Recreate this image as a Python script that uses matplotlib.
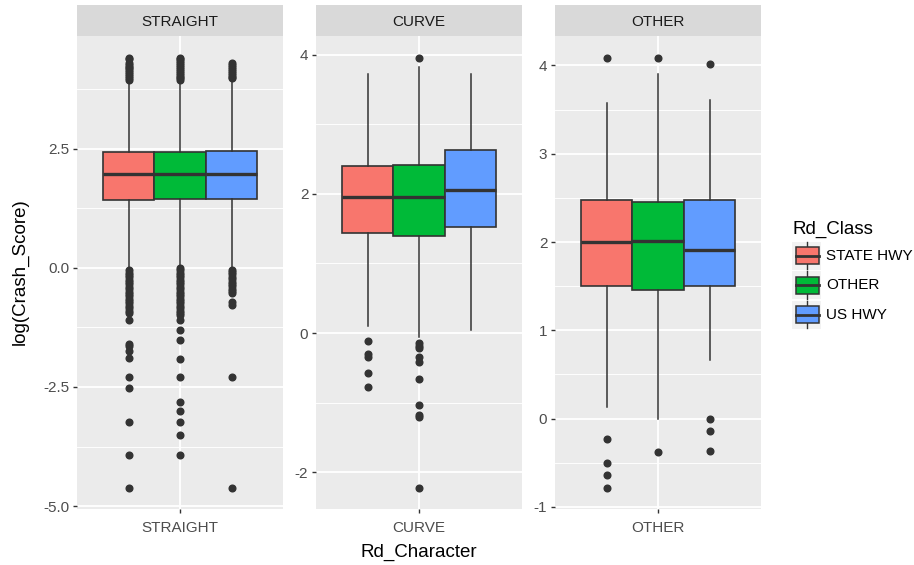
import matplotlib
matplotlib.use("Agg")
import matplotlib.pyplot as plt
from matplotlib.patches import Rectangle
from matplotlib.lines import Line2D

plt.rcParams['font.family'] = ['Liberation Sans', 'DejaVu Sans']

W, H = 914, 565

facets = ["STRAIGHT", "CURVE", "OTHER"]
classes = ["STATE HWY", "OTHER", "US HWY"]
colors = ["#F8766D", "#00BA38", "#619CFF"]

# ---- STRAIGHT ----
straight_q1 = [1.42, 1.45, 1.45]
straight_med = [1.97, 1.97, 1.97]
straight_q3 = [2.43, 2.43, 2.45]
straight_lo = [-0.02, 0.04, 0.02]
straight_hi = [3.90, 3.90, 3.93]
straight_fliers_state = [4.41, 4.37, 4.30, 4.26, 4.22, 4.18, 4.14, 4.10, 4.06, 4.02, 3.98, 3.94,
                         -0.05, -0.10, -0.15, -0.20, -0.25, -0.30, -0.35, -0.40, -0.45, -0.50,
                         -0.55, -0.60, -0.65, -0.70, -0.75, -0.80, -0.85, -0.90, -0.95,
                         -1.09, -1.59, -1.65, -1.75, -1.90, -2.29, -2.52, -3.23, -3.93, -4.61]
straight_fliers_other = [4.41, 4.37, 4.33, 4.29, 4.25, 4.21, 4.17, 4.13, 4.09, 4.05, 4.01, 3.97, 3.93,
                         0.00, -0.05, -0.10, -0.15, -0.20, -0.25, -0.30, -0.35, -0.40, -0.45,
                         -0.50, -0.55, -0.60, -0.65, -0.70, -0.75, -0.80, -0.85, -0.90, -0.95,
                         -1.00, -1.09, -1.31, -1.51, -1.91, -2.29, -2.81, -3.00, -3.23, -3.51, -3.93]
straight_fliers_us = [4.29, 4.25, 4.21, 4.17, 4.13, 4.09, 4.05, 4.01, 3.97,
                      -0.04, -0.09, -0.14, -0.19, -0.24, -0.29, -0.34, -0.39, -0.44, -0.49, -0.54,
                      -0.71, -0.78, -2.29, -4.61]

# ---- CURVE ----
curve_q1 = [1.44, 1.40, 1.52]
curve_med = [1.95, 1.95, 2.05]
curve_q3 = [2.40, 2.42, 2.63]
curve_lo = [0.10, -0.05, 0.05]
curve_hi = [3.72, 3.83, 3.72]
curve_fliers_state = [-0.12, -0.30, -0.34, -0.57, -0.77]
curve_fliers_other = [3.96, -0.14, -0.18, -0.22, -0.35, -0.42, -0.66, -1.03, -1.18, -1.21, -2.22]
curve_fliers_us = []

# ---- OTHER ----
other_q1 = [1.50, 1.46, 1.50]
other_med = [2.00, 2.01, 1.91]
other_q3 = [2.48, 2.45, 2.48]
other_lo = [0.13, 0.00, 0.66]
other_hi = [3.58, 3.90, 3.61]
other_fliers_state = [4.09, -0.23, -0.50, -0.64, -0.78]
other_fliers_other = [4.08, -0.38]
other_fliers_us = [4.02, 0.00, -0.14, -0.37]

facet_data = [
    (straight_q1, straight_med, straight_q3, straight_lo, straight_hi,
     [straight_fliers_state, straight_fliers_other, straight_fliers_us]),
    (curve_q1, curve_med, curve_q3, curve_lo, curve_hi,
     [curve_fliers_state, curve_fliers_other, curve_fliers_us]),
    (other_q1, other_med, other_q3, other_lo, other_hi,
     [other_fliers_state, other_fliers_other, other_fliers_us]),
]

major_ticks = [[-5.0, -2.5, 0.0, 2.5], [-2, 0, 2, 4], [-1, 0, 1, 2, 3, 4]]
major_labels = [["-5.0", "-2.5", "0.0", "2.5"], ["-2", "0", "2", "4"],
                ["-1", "0", "1", "2", "3", "4"]]

fig = plt.figure(figsize=(W / 100, H / 100), dpi=100)
fig.patch.set_facecolor("white")


def px_axes(x0, y0, x1, y1):
    return fig.add_axes([x0 / W, 1 - y1 / H, (x1 - x0) / W, (y1 - y0) / H])


panel_x = [(77, 283), (316, 522), (555, 761)]
PT, PB = 36, 509
ST = 5

positions = [0.7, 1.0, 1.3]
for i, (name, (q1, med, q3, lo, hi, fl)) in enumerate(zip(facets, facet_data)):
    x0, x1 = panel_x[i]
    ax = px_axes(x0, PT, x1, PB)
    ax.set_facecolor("#EBEBEB")
    stats = []
    for j in range(3):
        stats.append(dict(q1=q1[j], med=med[j], q3=q3[j], whislo=lo[j], whishi=hi[j],
                          fliers=fl[j]))
    bp = ax.bxp(stats, positions=positions, widths=0.3, patch_artist=True,
                showcaps=False,
                boxprops=dict(edgecolor="#333333", linewidth=1.2),
                medianprops=dict(color="#333333", linewidth=2.4),
                whiskerprops=dict(color="#333333", linewidth=1.1),
                flierprops=dict(marker="o", markerfacecolor="#333333",
                                markeredgecolor="#333333", markersize=4.8,
                                linestyle="none"),
                zorder=3)
    for patch, c in zip(bp["boxes"], colors):
        patch.set_facecolor(c)
    mt = major_ticks[i]
    step = mt[1] - mt[0]
    minors = [m + step / 2 for m in [mt[0] - step] + mt]
    ax.set_yticks(mt)
    ax.set_yticklabels(major_labels[i])
    ax.set_yticks(minors, minor=True)
    ax.set_xticks([1.0])
    ax.set_xticklabels([name])
    allv = []
    for j in range(3):
        allv += [lo[j], hi[j]] + list(fl[j])
    vmin, vmax = min(allv), max(allv)
    pad = (vmax - vmin) * 0.05
    ax.set_ylim(vmin - pad, vmax + pad)
    ax.set_xlim(0.4, 1.6)
    ax.grid(True, which="major", color="white", linewidth=1.3, zorder=0)
    ax.grid(True, which="minor", axis="y", color="white", linewidth=0.65, zorder=0)
    ax.set_axisbelow(True)
    ax.tick_params(axis="both", which="major", length=3, width=1.0, color="#333333",
                   labelcolor="#4D4D4D", labelsize=11, pad=2.5)
    ax.tick_params(axis="x", which="major", pad=6)
    ax.tick_params(axis="both", which="minor", length=0)
    for s in ax.spines.values():
        s.set_visible(False)
    # strip
    sax = px_axes(x0, ST, x1, PT)
    sax.set_facecolor("#D9D9D9")
    sax.set_xticks([])
    sax.set_yticks([])
    for s in sax.spines.values():
        s.set_visible(False)
    sax.text(0.5, 0.45, name, ha="center", va="center", fontsize=11, color="#1A1A1A",
             transform=sax.transAxes)

# axis titles
fig.text(20 / W, 1 - 272 / H, "log(Crash_Score)", rotation=90, ha="center", va="center",
         fontsize=13.5, color="black")
fig.text(419 / W, 1 - 552 / H, "Rd_Character", ha="center", va="center",
         fontsize=13.5, color="black")

# legend
lax = px_axes(775, 200, 914, 345)
lax.set_xlim(775, 914)
lax.set_ylim(345, 200)
lax.axis("off")
lax.text(792, 229, "Rd_Class", ha="left", va="center", fontsize=13.5, color="black")
key_top = 241
key_h = 29.5
for j, (lab, c) in enumerate(zip(classes, colors)):
    yt = key_top + j * key_h
    lax.add_patch(Rectangle((792, yt + 0.7), 29, key_h - 1.4, facecolor="#F2F2F2",
                            edgecolor="none"))
    cy = yt + key_h / 2
    lax.add_patch(Rectangle((795.5, cy - 8.5), 23, 17, facecolor=c, edgecolor="#333333",
                            linewidth=1.1, zorder=3))
    lax.add_line(Line2D([795.5, 818.5], [cy, cy], color="#333333", linewidth=2.0, zorder=4))
    lax.add_line(Line2D([807, 807], [yt + 1, cy - 8.5], color="#333333", linewidth=1.0))
    lax.add_line(Line2D([807, 807], [cy + 8.5, yt + key_h - 1], color="#333333", linewidth=1.0))
    lax.text(826, cy, lab, ha="left", va="center", fontsize=11, color="black")

fig.savefig("out.png", dpi=100)
